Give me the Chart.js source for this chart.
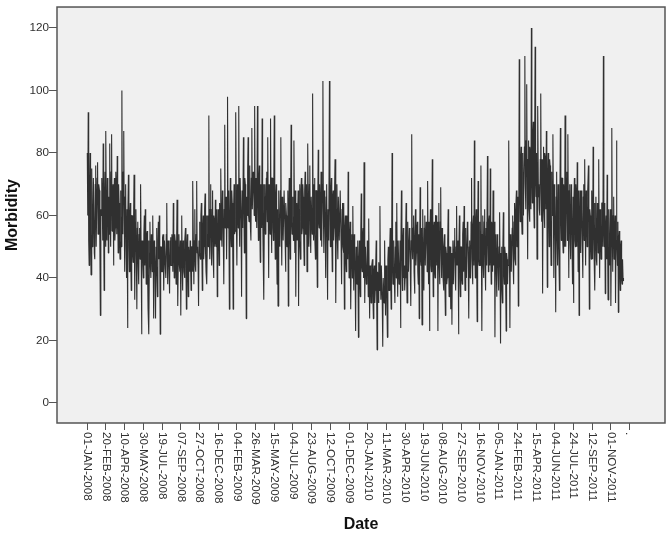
<!DOCTYPE html>
<html lang="en">

<head>
  <meta charset="UTF-8">
  <title>Morbidity by date</title>
  <script src="https://cdn.jsdelivr.net/npm/chart.js"></script>
  <style>
    html, body { margin: 0; padding: 0; background: #fff; }
    canvas { display: block; filter: blur(0.4px); }
  </style>
</head>

<body>
  <canvas id="myChart" width="670" height="534"></canvas>

  <script>
    // one tick every 50 days, the last one has no date in the original
    const dateLabels = ['01-JAN-2008', '20-FEB-2008', '10-APR-2008', '30-MAY-2008', '19-JUL-2008', '07-SEP-2008',
      '27-OCT-2008', '16-DEC-2008', '04-FEB-2009', '26-MAR-2009', '15-MAY-2009', '04-JUL-2009', '23-AUG-2009',
      '12-OCT-2009', '01-DEC-2009', '20-JAN-2010', '11-MAR-2010', '30-APR-2010', '19-JUN-2010', '08-AUG-2010',
      '27-SEP-2010', '16-NOV-2010', '05-JAN-2011', '24-FEB-2011', '15-APR-2011', '04-JUN-2011', '24-JUL-2011',
      '12-SEP-2011', '01-NOV-2011', '.'];
    const samplesPerTick = 40;
    const yTickValues = [0, 20, 40, 60, 80, 100, 120];

    // values, two lines per tick interval
    const morbidity = [
      80, 60, 93, 52, 44, 68, 80, 55, 41, 70, 75, 50, 52, 72, 72, 48, 46, 70, 76, 50,
      50, 72, 77, 54, 55, 70, 68, 48, 28, 62, 60, 72, 64, 52, 83, 58, 36, 66, 74, 50,
      87, 56, 52, 72, 70, 48, 66, 54, 83, 60, 50, 74, 86, 55, 60, 70, 44, 64, 72, 52,
      56, 74, 68, 54, 79, 62, 48, 70, 64, 52, 46, 68, 60, 50, 100, 56, 54, 74, 87, 60,
      42, 66, 70, 50, 40, 62, 24, 58, 73, 50, 42, 60, 64, 46, 36, 60, 60, 48, 45, 58,
      73, 50, 33, 58, 62, 46, 30, 56, 58, 44, 38, 54, 56, 46, 70, 52, 22, 50, 52, 44,
      40, 54, 60, 44, 62, 50, 38, 54, 55, 42, 30, 52, 22, 48, 58, 44, 40, 54, 52, 42,
      60, 46, 27, 52, 48, 42, 27, 50, 56, 44, 34, 52, 58, 46, 60, 48, 22, 50, 50, 42,
      42, 53, 54, 44, 36, 52, 52, 43, 40, 54, 64, 46, 38, 52, 50, 42, 35, 52, 53, 44,
      44, 54, 48, 42, 64, 50, 40, 54, 52, 44, 38, 50, 65, 44, 31, 50, 54, 44, 42, 52,
      28, 50, 60, 44, 36, 52, 50, 42, 40, 52, 56, 44, 30, 50, 54, 42, 34, 50, 46, 42,
      52, 44, 36, 50, 50, 42, 71, 50, 38, 52, 62, 44, 42, 54, 71, 48, 50, 44, 31, 52,
      58, 48, 46, 60, 64, 50, 36, 56, 60, 46, 50, 62, 67, 48, 42, 60, 38, 54, 60, 50,
      92, 54, 46, 62, 70, 50, 44, 62, 68, 48, 40, 60, 58, 50, 65, 52, 50, 62, 34, 52,
      62, 52, 44, 64, 58, 52, 75, 56, 50, 68, 66, 52, 38, 62, 89, 56, 60, 66, 46, 64,
      98, 56, 56, 68, 30, 60, 72, 54, 50, 68, 64, 52, 30, 62, 70, 54, 55, 68, 93, 58,
      44, 70, 68, 56, 95, 60, 50, 72, 72, 58, 34, 68, 65, 56, 85, 62, 48, 72, 70, 58,
      27, 66, 60, 74, 85, 60, 58, 74, 76, 56, 52, 72, 88, 62, 62, 74, 70, 60, 95, 64,
      58, 72, 72, 56, 95, 64, 52, 72, 76, 58, 45, 70, 68, 56, 91, 62, 50, 70, 33, 66,
      70, 54, 56, 72, 74, 58, 85, 62, 40, 70, 66, 54, 91, 62, 48, 72, 72, 56, 52, 70,
      92, 60, 46, 66, 70, 52, 38, 62, 31, 60, 68, 52, 50, 68, 85, 58, 44, 66, 62, 52,
      52, 68, 68, 54, 42, 64, 60, 50, 50, 68, 31, 60, 72, 54, 46, 66, 89, 58, 54, 66,
      60, 52, 84, 62, 48, 68, 34, 60, 64, 52, 52, 68, 31, 62, 70, 52, 46, 68, 72, 54,
      56, 70, 66, 52, 44, 68, 74, 54, 54, 70, 42, 62, 83, 60, 50, 70, 76, 54, 48, 66,
      66, 54, 99, 62, 52, 70, 72, 54, 46, 68, 68, 54, 37, 64, 81, 58, 56, 70, 62, 52,
      74, 56, 50, 70, 103, 62, 48, 68, 66, 54, 40, 66, 70, 52, 33, 62, 62, 52, 103, 64,
      50, 68, 72, 54, 42, 66, 68, 52, 56, 68, 78, 58, 32, 62, 70, 52, 46, 66, 66, 52,
      52, 68, 68, 50, 38, 62, 64, 50, 48, 64, 30, 56, 60, 46, 42, 60, 58, 46, 74, 54,
      40, 54, 58, 42, 30, 52, 54, 40, 63, 46, 36, 54, 50, 40, 23, 50, 48, 38, 38, 52,
      21, 46, 52, 38, 34, 54, 67, 44, 42, 54, 56, 40, 77, 48, 32, 50, 50, 38, 40, 52,
      46, 34, 59, 40, 27, 44, 42, 32, 34, 44, 46, 34, 27, 42, 44, 32, 36, 44, 52, 34,
      17, 42, 38, 32, 45, 36, 63, 40, 33, 44, 44, 32, 18, 40, 40, 32, 52, 38, 28, 44,
      44, 36, 21, 46, 50, 36, 36, 50, 56, 40, 30, 48, 80, 44, 38, 50, 52, 38, 32, 50,
      58, 40, 64, 44, 34, 52, 52, 38, 40, 52, 24, 46, 68, 44, 36, 52, 56, 40, 44, 36,
      40, 54, 64, 44, 32, 52, 58, 42, 42, 56, 54, 42, 31, 52, 86, 50, 46, 56, 60, 42,
      35, 52, 62, 44, 48, 56, 58, 42, 38, 54, 27, 50, 69, 46, 44, 56, 25, 50, 62, 44,
      36, 56, 60, 44, 44, 58, 56, 42, 71, 50, 38, 58, 23, 52, 62, 44, 42, 58, 78, 50,
      34, 56, 58, 42, 40, 60, 60, 44, 46, 58, 23, 50, 64, 44, 38, 58, 69, 48, 40, 56,
      52, 40, 36, 50, 54, 38, 28, 50, 48, 38, 40, 52, 62, 44, 34, 50, 50, 38, 30, 48,
      25, 46, 52, 38, 38, 52, 56, 40, 36, 50, 63, 44, 44, 52, 22, 46, 60, 40, 34, 50,
      50, 40, 38, 54, 58, 42, 63, 48, 36, 56, 54, 40, 40, 58, 56, 42, 27, 50, 52, 40,
      42, 58, 72, 46, 38, 56, 60, 44, 84, 50, 40, 58, 62, 42, 26, 52, 71, 46, 44, 58,
      56, 44, 76, 50, 23, 54, 60, 44, 40, 58, 62, 44, 36, 56, 58, 44, 79, 52, 42, 58,
      60, 44, 75, 50, 38, 58, 56, 42, 68, 48, 44, 58, 21, 50, 54, 42, 34, 54, 52, 42,
      36, 50, 61, 42, 19, 48, 50, 38, 32, 50, 61, 42, 38, 50, 48, 38, 23, 48, 46, 38,
      44, 52, 84, 50, 24, 54, 52, 42, 42, 56, 60, 44, 38, 58, 64, 46, 44, 62, 68, 50,
      50, 66, 31, 60, 110, 68, 58, 78, 82, 60, 54, 80, 78, 60, 60, 82, 111, 70, 62, 84,
      102, 68, 46, 78, 84, 62, 58, 82, 80, 62, 120, 74, 64, 86, 90, 64, 56, 84, 114, 72,
      66, 80, 46, 72, 95, 66, 70, 62, 60, 78, 99, 68, 58, 78, 35, 70, 82, 62, 56, 80,
      78, 62, 87, 66, 37, 72, 80, 60, 50, 78, 76, 60, 44, 74, 72, 60, 86, 64, 40, 70,
      66, 52, 29, 66, 74, 52, 44, 70, 68, 50, 36, 66, 88, 60, 52, 72, 72, 52, 48, 70,
      60, 50, 92, 62, 50, 72, 74, 52, 86, 60, 40, 68, 70, 52, 46, 70, 64, 50, 38, 66,
      32, 62, 72, 52, 50, 70, 66, 50, 77, 60, 42, 68, 28, 58, 68, 50, 48, 68, 62, 50,
      40, 66, 70, 52, 78, 58, 44, 68, 64, 50, 50, 68, 76, 56, 30, 62, 60, 50, 46, 68,
      56, 46, 82, 58, 48, 64, 36, 56, 66, 46, 44, 64, 62, 48, 78, 54, 40, 62, 58, 46,
      46, 64, 64, 50, 111, 56, 50, 64, 35, 56, 60, 46, 73, 52, 33, 60, 62, 46, 44, 62,
      31, 50, 88, 56, 42, 60, 66, 46, 52, 60, 32, 52, 84, 54, 44, 58, 29, 52, 55, 42,
      36, 50, 52, 40, 38, 46, 40, 39
    ];

    const corFundo = '#f0f0f0';
    const corEixo = '#555555';
    const corTexto = '#303030';

    const fundoPlot = {
      id: 'fundoPlot',
      beforeDatasetsDraw(chart) {
        const { ctx, chartArea: a } = chart;
        ctx.save();
        ctx.fillStyle = corFundo;
        ctx.fillRect(a.left, a.top, a.right - a.left, a.bottom - a.top);
        ctx.restore();
      },
      afterDraw(chart) {
        const { ctx, chartArea: a } = chart;
        ctx.save();
        ctx.strokeStyle = corEixo;
        ctx.lineWidth = 1.5;
        ctx.strokeRect(a.left, a.top, a.right - a.left, a.bottom - a.top);
        ctx.restore();
      }
    };

    new Chart(document.getElementById('myChart'), {
      type: 'line',
      data: {
        datasets: [{
          label: 'Morbidity',
          data: morbidity.map((y, i) => ({ x: i, y: y })),
          borderColor: 'rgba(0, 0, 0, 0.8)',
          borderWidth: 1.1,
          borderJoinStyle: 'bevel',
          pointRadius: 0,
          tension: 0
        }]
      },
      plugins: [fundoPlot],
      options: {
        responsive: false,
        animation: false,
        layout: { padding: { top: 5, right: 5, left: 3, bottom: 0 } },
        plugins: { legend: { display: false }, tooltip: { enabled: false } },
        scales: {
          x: {
            type: 'linear',
            min: -64.8,
            max: 1235.8,
            grid: { drawOnChartArea: false, tickLength: 7, color: corEixo, lineWidth: 1 },
            border: { display: false },
            title: {
              display: true,
              text: 'Date',
              color: '#111',
              font: { family: 'Liberation Sans', size: 16, weight: 'bold' },
              padding: { top: 0, bottom: 0 }
            },
            ticks: {
              autoSkip: false,
              minRotation: -90,
              maxRotation: -90,
              padding: 2,
              color: corTexto,
              font: { family: 'Liberation Sans', size: 11.7 },
              callback: (v, i) => dateLabels[i]
            },
            beforeUpdate(scale) {
              // labels hang down from the tick, reading top to bottom
              scale._getXAxisLabelAlignment = () => 'left';
            },
            afterBuildTicks(scale) {
              scale.ticks = dateLabels.map((d, i) => ({ value: i * samplesPerTick }));
            },
            afterFit(scale) { scale.height = 111; }
          },
          y: {
            min: -6.4,
            max: 126.7,
            grid: { drawOnChartArea: false, tickLength: 8, color: corEixo, lineWidth: 1 },
            border: { display: false },
            title: {
              display: true,
              text: 'Morbidity',
              color: '#111',
              font: { family: 'Liberation Sans', size: 16, weight: 'bold' },
              padding: { top: 0, bottom: 0 }
            },
            ticks: {
              padding: 0,
              color: corTexto,
              font: { family: 'Liberation Sans', size: 11.7 }
            },
            afterBuildTicks(scale) {
              scale.ticks = yTickValues.map(v => ({ value: v }));
            },
            afterFit(scale) { scale.width = 54; }
          }
        }
      }
    });
  </script>
</body>

</html>
